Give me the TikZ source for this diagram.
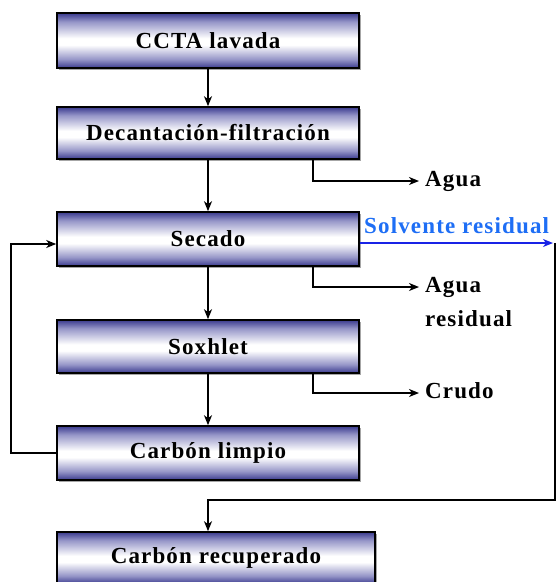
\documentclass[tikz,border=0pt]{standalone}
\usepackage{fontspec}
\setmainfont[LetterSpace=5]{Liberation Serif}
\usetikzlibrary{arrows.meta,shadows}
\definecolor{bdark}{RGB}{58,58,142}
\definecolor{bmid}{RGB}{150,150,200}
\definecolor{solvtext}{RGB}{30,110,245}
\definecolor{solvline}{RGB}{25,35,230}
\pgfdeclareverticalshading{boxshade}{100bp}{color(0bp)=(bdark); color(25bp)=(bdark); color(33bp)=(bmid); color(46bp)=(white); color(52bp)=(white); color(67bp)=(bmid); color(75bp)=(bdark); color(100bp)=(bdark)}
\tikzset{
  procbox/.style={draw=black, line width=1.6pt, shading=boxshade,
    minimum width=302pt, minimum height=53pt, inner sep=0pt,
    drop shadow={shadow xshift=1.5pt, shadow yshift=-1.5pt, fill=gray!70, opacity=1},
    font=\bfseries\fontsize{23}{27}\selectfont},
  lbl/.style={inner sep=0pt, text height=16pt, text depth=5pt,
    font=\bfseries\fontsize{23}{27}\selectfont},
  conn/.style={line width=1.6pt, draw=black,
    -{Stealth[length=10pt,width=8pt,inset=3pt]}},
  solv/.style={line width=1.6pt, draw=solvline,
    -{Stealth[length=10pt,width=8pt,inset=3pt]}}
}
\begin{document}
\begin{tikzpicture}[x=1pt,y=-1pt]
\useasboundingbox (0,0) rectangle (559,582);
\node[procbox, minimum height=55pt] (ccta) at (208,40.5) {CCTA lavada};
\node[procbox, minimum height=52pt] (dec) at (208,133) {Decantación-filtración};
\node[procbox, minimum height=54pt] (sec) at (208,239) {Secado};
\node[procbox] (sox) at (208,346.5) {Soxhlet};
\node[procbox, minimum height=54pt] (lim) at (208,453) {Carbón limpio};
\node[procbox, minimum width=318pt, minimum height=52pt] (rec) at (216,558) {Carbón recuperado};

\node[lbl, anchor=west] (agua) at (425,181) {Agua};
\node[lbl, anchor=west] (aguar) at (425,287) {Agua};
\node[lbl, anchor=base west] (resid) at (425,326) {residual};
\node[lbl, anchor=west] (crudo) at (425,393) {Crudo};
\node[lbl, anchor=base west, text=solvtext] (solvlbl) at (364,233) {Solvente residual};

\coordinate (sv) at (555,243);
\coordinate (turn) at (555,500);

\draw[conn] (ccta) -- (dec);
\draw[conn] (dec) -- (sec);
\draw[conn] (sec) -- (sox);
\draw[conn] (sox) -- (lim);

\draw[conn, shorten >=6pt] ([xshift=105pt]dec.south) |- (agua.west);
\draw[conn, shorten >=6pt] ([xshift=105pt]sec.south) |- (aguar.west);
\draw[conn, shorten >=6pt] ([xshift=105pt]sox.south) |- (crudo.west);

\draw[solv, shorten >=2pt] ([yshift=-4pt]sec.east) -- (sv);
\draw[conn] (sv) -- (turn) -| (rec.north -| ccta.south);

\draw[conn] (lim.west) -- ++(-45,0) |- ([yshift=-5pt]sec.west);
\end{tikzpicture}
\end{document}
